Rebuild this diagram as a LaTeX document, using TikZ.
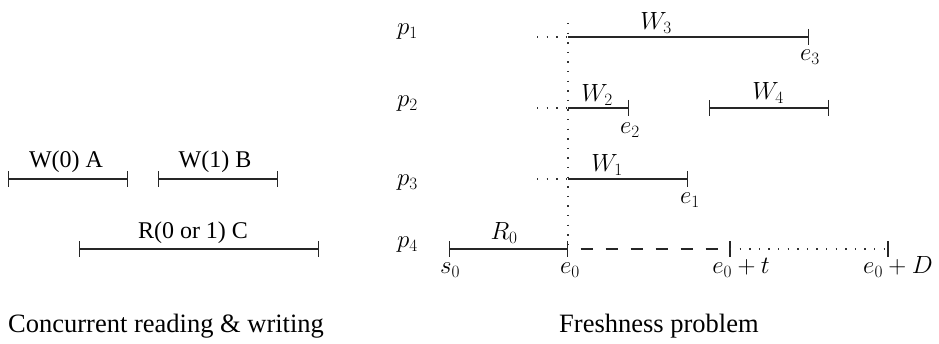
\documentclass[tikz,border=0pt]{standalone}
\usepackage{fontspec}
\setmainfont{Liberation Serif}
\usetikzlibrary{arrows.meta}
\begin{document}
\begin{tikzpicture}[x=1pt,y=-1pt,
  seg/.style={line width=1.1pt, draw=black!85},
  both/.style={seg, {Bar[width=16pt,line width=1.1pt]}-{Bar[width=16pt,line width=1.1pt]}},
  endtick/.style={seg, -{Bar[width=16pt,line width=1.1pt]}},
  dots/.style={line width=1.4pt, draw=black!80, dash pattern=on 1.4pt off 8.2pt},
  dashes/.style={seg, dash pattern=on 12.5pt off 12.5pt, dash phase=12.5pt},
  txt/.style={anchor=base, inner sep=0pt, font=\fontsize{24}{29}\selectfont},
  captxt/.style={anchor=base west, inner sep=0pt, font=\fontsize{26.5}{32}\selectfont},
  mlab/.style={anchor=base, inner sep=0pt, font=\fontsize{26}{31}\selectfont}]
\useasboundingbox (0,0) rectangle (939,344);
% ---------- left: concurrent reading & writing
\coordinate (a1) at (8,179);   \coordinate (a2) at (128,179);
\coordinate (b1) at (158,179); \coordinate (b2) at (278,179);
\coordinate (c1) at (79,249);  \coordinate (c2) at (319,249);
\draw[both] (a1) -- (a2);
\draw[both] (b1) -- (b2);
\draw[both] (c1) -- (c2);
\node[txt] (la) at (66,168) {W(0) A};
\node[txt] (lb) at (215,168) {W(1) B};
\node[txt] (lc) at (193,239) {R(0 or 1) C};
\node[captxt] (cap1) at (8,332) {Concurrent reading \& writing};
% ---------- right: freshness problem
\coordinate (top) at (568,23);
\coordinate (d1) at (537,37);  \coordinate (o1) at (568,37);  \coordinate (t3) at (809,37);
\coordinate (d2) at (537,108); \coordinate (o2) at (568,108); \coordinate (t2) at (629,108);
\coordinate (w4a) at (709,108); \coordinate (w4b) at (829,108);
\coordinate (d3) at (537,179); \coordinate (o3) at (568,179); \coordinate (t1) at (688,179);
\coordinate (s0) at (449,249); \coordinate (e0) at (568,249);
\coordinate (et) at (730,249); \coordinate (eD) at (888,249);
\coordinate (etu) at (730,241); \coordinate (etd) at (730,257);
\coordinate (eDu) at (888,241); \coordinate (eDd) at (888,257);
\draw[dots] (top) -- (e0);
\draw[dots] (d1) -- (o1);
\draw[dots] (d2) -- (o2);
\draw[dots] (d3) -- (o3);
\draw[endtick] (o1) -- (t3);
\draw[endtick] (o2) -- (t2);
\draw[both] (w4a) -- (w4b);
\draw[endtick] (o3) -- (t1);
\draw[both] (s0) -- (e0);
\draw[dashes] (e0) -- (et);
\draw[seg] (etu) -- (etd);
\draw[dots] (et) -- (eD);
\draw[seg] (eDu) -- (eDd);
% process labels
\node[mlab, anchor=base west] (p1) at (397,35) {$p_1$};
\node[mlab, anchor=base west] (p2) at (397,107) {$p_2$};
\node[mlab, anchor=base west] (p3) at (397,186) {$p_3$};
\node[mlab, anchor=base west] (p4) at (397,248) {$p_4$};
% interval labels
\node[mlab] (W3) at (656,30) {$W_3$};
\node[mlab] (e3) at (810,61) {$e_3$};
\node[mlab] (W2) at (597,102) {$W_2$};
\node[mlab] (e2) at (630,134) {$e_2$};
\node[mlab] (W4) at (768,100) {$W_4$};
\node[mlab] (W1) at (607,172) {$W_1$};
\node[mlab] (e1) at (690,204) {$e_1$};
\node[mlab] (R0) at (504,240) {$R_0$};
\node[mlab] (ls0) at (450,274) {$s_0$};
\node[mlab] (le0) at (570,274) {$e_0$};
\node[mlab] (let) at (741,274) {$e_0+t$};
\node[mlab] (leD) at (898,274) {$e_0+D$};
\node[captxt] (cap2) at (559,332) {Freshness problem};
\end{tikzpicture}
\end{document}
